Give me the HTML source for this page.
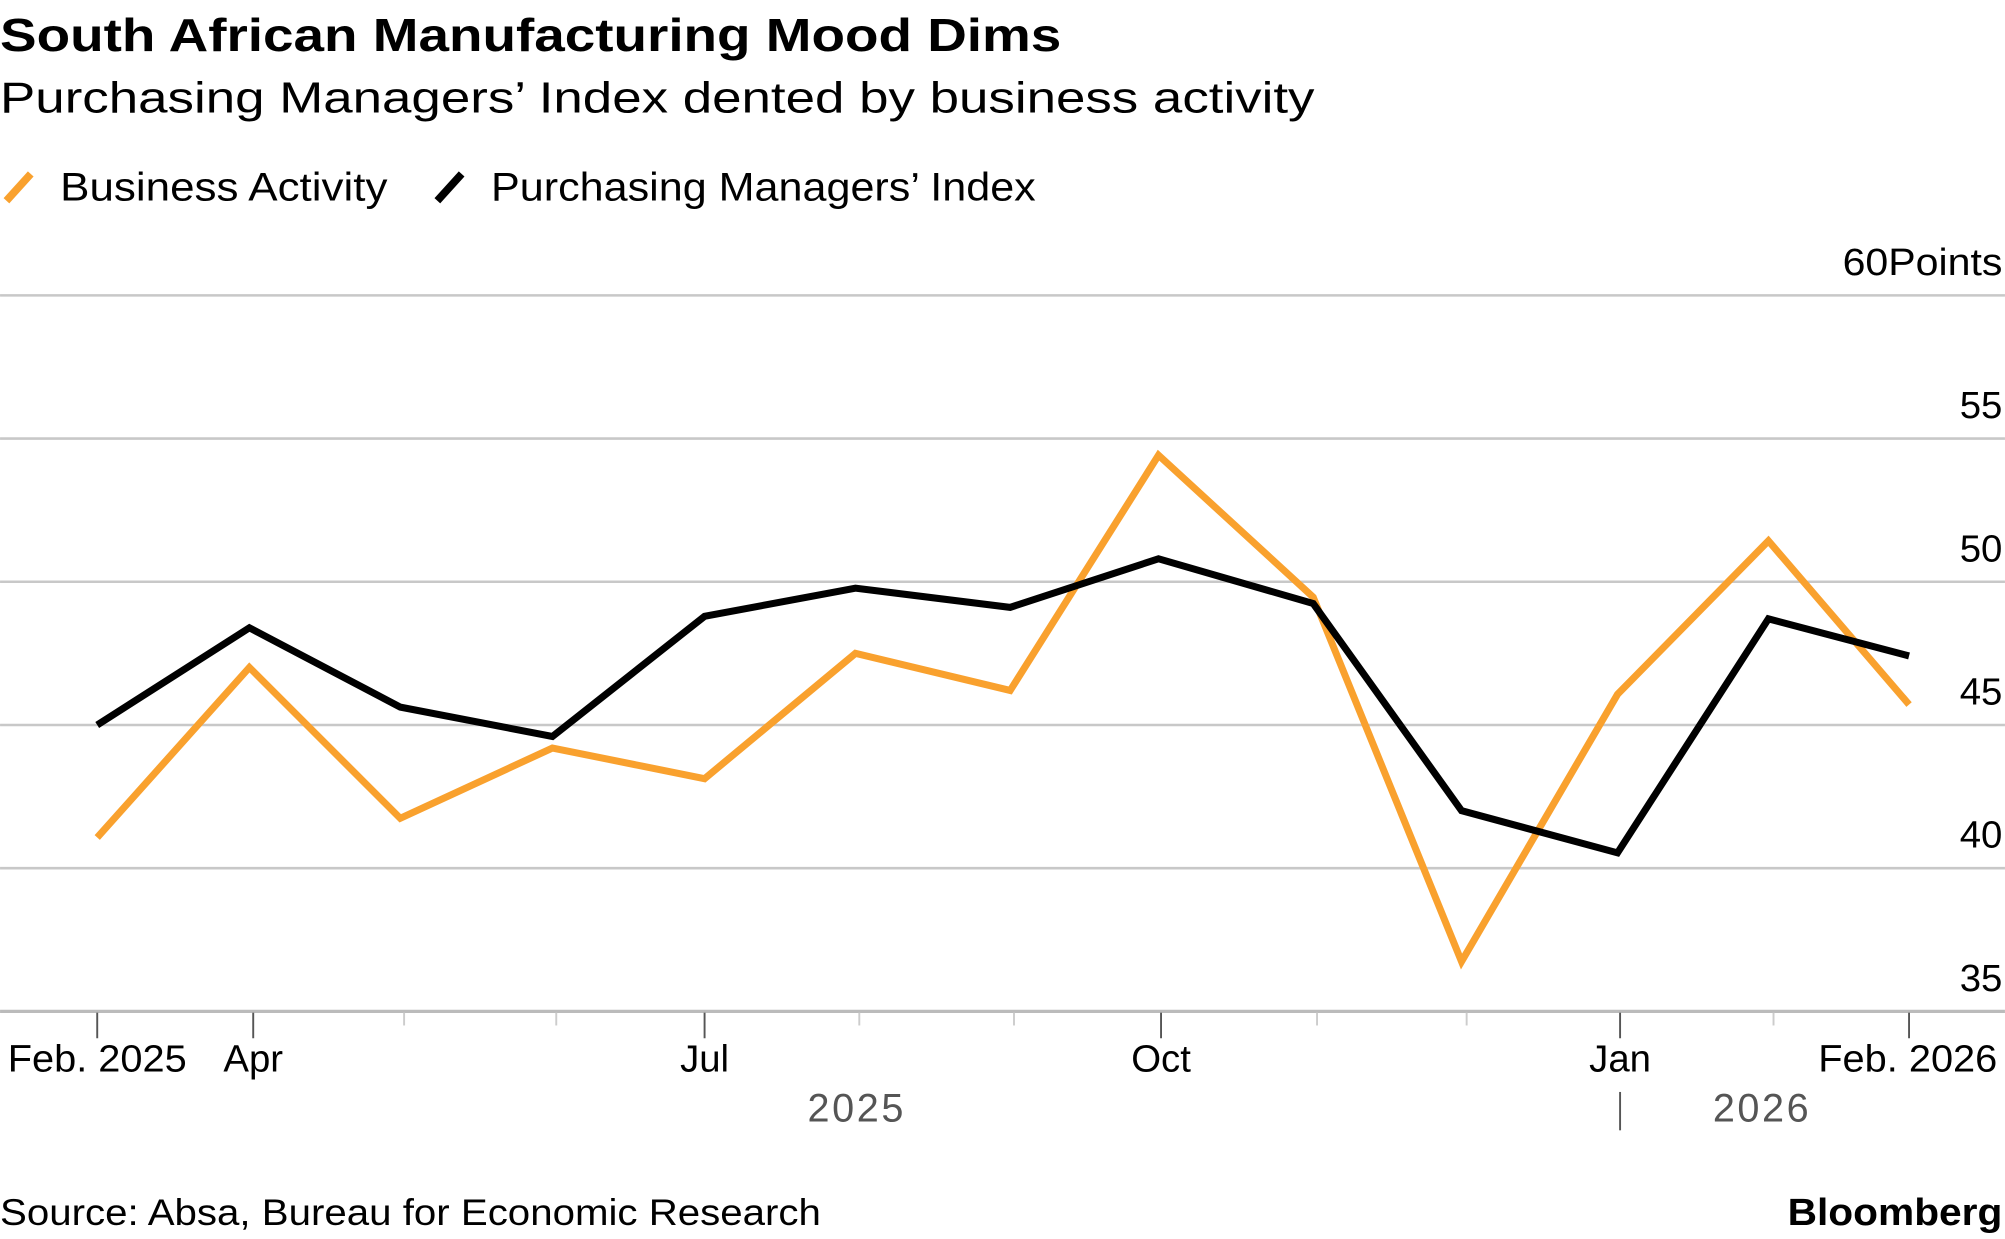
<!DOCTYPE html>
<html><head><meta charset="utf-8"><style>
html,body{margin:0;padding:0;background:#fff;}
svg{display:block;}
text{font-family:"Liberation Sans",Arial,sans-serif;fill:#000;}
</style></head><body>
<svg width="2005" height="1239" viewBox="0 0 1568 969" xmlns="http://www.w3.org/2000/svg">
<text x="0" y="40" font-size="36" font-weight="bold" textLength="830" lengthAdjust="spacingAndGlyphs">South African Manufacturing Mood Dims</text>
<text x="0" y="88" font-size="34" textLength="1028" lengthAdjust="spacingAndGlyphs">Purchasing Managers’ Index dented by business activity</text>
<line x1="5" y1="157" x2="24" y2="136" stroke="#f9a12e" stroke-width="6"/>
<text x="47" y="157" font-size="31" textLength="256" lengthAdjust="spacingAndGlyphs">Business Activity</text>
<line x1="342" y1="157" x2="361" y2="136" stroke="#000" stroke-width="6"/>
<text x="384" y="157" font-size="31" textLength="426" lengthAdjust="spacingAndGlyphs">Purchasing Managers’ Index</text>
<g stroke="#c8c8c8" stroke-width="2">
<line x1="0" y1="231" x2="1568" y2="231"/>
<line x1="0" y1="343" x2="1568" y2="343"/>
<line x1="0" y1="455" x2="1568" y2="455"/>
<line x1="0" y1="567" x2="1568" y2="567"/>
<line x1="0" y1="679" x2="1568" y2="679"/>
</g>
<line x1="0" y1="791" x2="1568" y2="791" stroke="#bbb" stroke-width="2.5"/>
<g font-size="30" text-anchor="end">
<text x="1566" y="215" textLength="125" lengthAdjust="spacingAndGlyphs">60Points</text>
<text x="1566" y="327">55</text>
<text x="1566" y="439">50</text>
<text x="1566" y="551">45</text>
<text x="1566" y="663">40</text>
<text x="1566" y="775">35</text>
</g>
<g stroke="#555" stroke-width="1.5">
<line x1="76" y1="792" x2="76" y2="812"/>
<line x1="198" y1="792" x2="198" y2="812"/>
<line x1="551" y1="792" x2="551" y2="812"/>
<line x1="908" y1="792" x2="908" y2="812"/>
<line x1="1267" y1="792" x2="1267" y2="812"/>
<line x1="1493" y1="792" x2="1493" y2="812"/>
<line x1="1267" y1="854" x2="1267" y2="884"/>
</g>
<g stroke="#ccc" stroke-width="1.5">
<line x1="316" y1="792" x2="316" y2="802"/>
<line x1="435" y1="792" x2="435" y2="802"/>
<line x1="672" y1="792" x2="672" y2="802"/>
<line x1="793" y1="792" x2="793" y2="802"/>
<line x1="1030" y1="792" x2="1030" y2="802"/>
<line x1="1147" y1="792" x2="1147" y2="802"/>
<line x1="1387" y1="792" x2="1387" y2="802"/>
</g>
<g font-size="30" text-anchor="middle">
<text x="76" y="838" textLength="140" lengthAdjust="spacingAndGlyphs">Feb. 2025</text>
<text x="198" y="838">Apr</text>
<text x="551" y="838">Jul</text>
<text x="908" y="838">Oct</text>
<text x="1267" y="838">Jan</text>
<text x="1492" y="838" textLength="140" lengthAdjust="spacingAndGlyphs">Feb. 2026</text>
</g>
<g font-size="31" text-anchor="middle" letter-spacing="2">
<text x="670" y="877" style="fill:#555">2025</text>
<text x="1378" y="877" style="fill:#555">2026</text>
</g>
<polyline fill="none" stroke="#f9a12e" stroke-width="5.5" stroke-linejoin="miter" points="76,655 195,522 313,640 432,585 551,609 669,511 790,540 906,356 1027,467 1143,752 1265,543 1383,423 1493,551"/>
<polyline fill="none" stroke="#000" stroke-width="5.5" stroke-linejoin="miter" points="76,567 195,491 313,553 432,576 551,482 669,460 790,475 906,437 1027,472 1143,634 1265,667 1383,484 1493,513"/>
<text x="0" y="958" font-size="29" textLength="642" lengthAdjust="spacingAndGlyphs">Source: Absa, Bureau for Economic Research</text>
<text x="1566" y="958" font-size="30" font-weight="bold" text-anchor="end" textLength="168" lengthAdjust="spacingAndGlyphs">Bloomberg</text>
</svg>
</body></html>
